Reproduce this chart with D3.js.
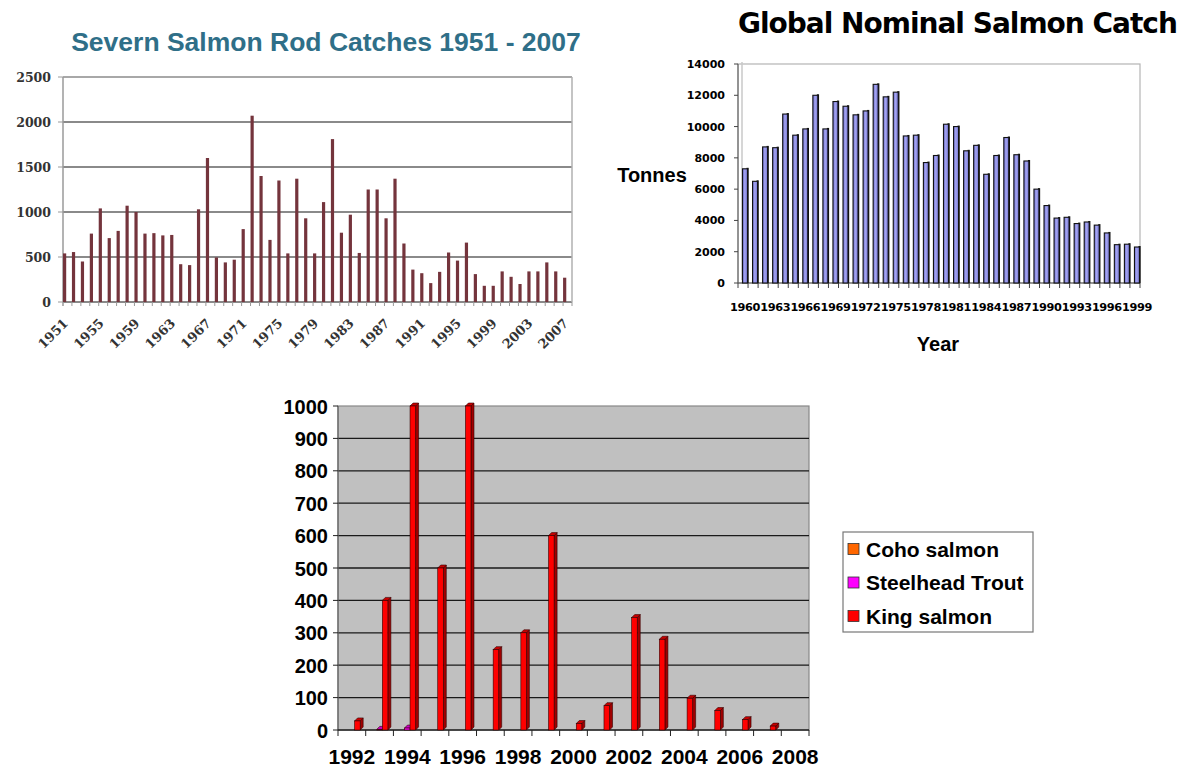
<!DOCTYPE html>
<html><head><meta charset="utf-8">
<script src="https://cdn.jsdelivr.net/npm/d3@7/dist/d3.min.js"></script>
<style>body{margin:0;background:#fff}svg{display:block}</style>
</head><body>
<svg id="c" width="1190" height="768"></svg>
<script>
// ---------- DATA ----------
const severnYears = d3.range(1951, 2008);
const severnCatch = [540,555,450,760,1040,710,790,1070,1000,760,
  765,740,745,420,410,1030,1600,495,440,470,
  810,2070,1400,690,1350,540,1370,930,540,1110,
  1810,770,970,545,1250,1250,930,1370,650,360,
  320,210,335,550,460,660,310,180,180,340,
  280,200,340,340,440,340,270];
const severnTickYears = [1951,1955,1959,1963,1967,1971,1975,1979,1983,1987,1991,1995,1999,2003,2007];
const severnYTicks = [0,500,1000,1500,2000,2500];

const globalYears = d3.range(1960, 2000);
const globalCatch = [7300,6500,8700,8650,10800,9450,9850,12000,9850,11600,
  11300,10750,11000,12700,11900,12200,9400,9450,7700,8150,
  10150,10000,8450,8800,6950,8150,9300,8200,7800,6000,
  4950,4150,4200,3800,3900,3700,3200,2450,2480,2300];
const globalTickYears = [1960,1963,1966,1969,1972,1975,1978,1981,1984,1987,1990,1993,1996,1999];
const globalYTicks = [0,2000,4000,6000,8000,10000,12000,14000];

const alaskaYears = d3.range(1992, 2009);
const cohoSalmon =     [0,0,0,0,0,0,0,0,0,0,0,0,0,0,0,0,0];
const steelheadTrout = [0,2,6,0,0,0,0,0,0,0,0,0,0,0,0,0,0];
const kingSalmon =     [28,400,1000,500,1000,248,300,600,20,75,347,280,98,60,32,12,0];
const alaskaSeries = ["Coho salmon","Steelhead Trout","King salmon"];
const alaskaColors = ["#ff6600","#ff00ff","#ff0000"];
const alaskaTickYears = [1992,1994,1996,1998,2000,2002,2004,2006,2008];
const alaskaYTicks = [0,100,200,300,400,500,600,700,800,900,1000];

const svg = d3.select("#c");
svg.append("rect").attr("width",1190).attr("height",768).attr("fill","#fff");

// ---------- CHART 1: Severn ----------
(function(){
  const L=63, R=572, T=77, B=302;
  const x = d3.scaleBand().domain(severnYears).range([L,R]);
  const y = d3.scaleLinear().domain([0,2500]).range([B,T]);
  const g = svg.append("g");
  g.append("text").attr("x",326).attr("y",51).attr("text-anchor","middle")
    .attr("font-family","Liberation Sans, Arial, sans-serif").attr("font-weight","bold")
    .attr("font-size",26.5).attr("fill","#2f6f88").text("Severn Salmon Rod Catches 1951 - 2007");
  g.selectAll("line.grid").data(severnYTicks).join("line")
    .attr("x1",L).attr("x2",R).attr("y1",d=>y(d)).attr("y2",d=>y(d))
    .attr("stroke",d=>d===2500?"#a8a8a8":"#8a8a8a").attr("stroke-width",2);
  g.append("line").attr("x1",L).attr("x2",L).attr("y1",T).attr("y2",B+4).attr("stroke","#9a9a9a").attr("stroke-width",1.5);
  g.append("line").attr("x1",R).attr("x2",R).attr("y1",T).attr("y2",B).attr("stroke","#b0b0b0").attr("stroke-width",1.5);
  g.selectAll("line.yt").data(severnYTicks).join("line")
    .attr("x1",L-5).attr("x2",L).attr("y1",d=>y(d)).attr("y2",d=>y(d)).attr("stroke","#999");
  g.selectAll("line.xt").data(severnYears).join("line")
    .attr("x1",d=>x(d)+x.bandwidth()).attr("x2",d=>x(d)+x.bandwidth()).attr("y1",B).attr("y2",B+4).attr("stroke","#999");
  g.selectAll("text.yl").data(severnYTicks).join("text")
    .attr("x",51).attr("y",d=>y(d)+4.5).attr("text-anchor","end")
    .attr("font-family","DejaVu Serif, serif").attr("font-weight","bold").attr("font-size",12.5)
    .attr("fill","#333").text(d=>d);
  g.selectAll("rect.bar").data(severnCatch).join("rect")
    .attr("x",(d,i)=>x(severnYears[i])).attr("width",3.2)
    .attr("y",d=>y(d)).attr("height",d=>B-y(d)).attr("fill","#74343c");
  g.selectAll("text.xl").data(severnTickYears).join("text")
    .attr("transform",d=>`translate(${x(d)+6},${B+22}) rotate(-45)`)
    .attr("text-anchor","end")
    .attr("font-family","DejaVu Serif, serif").attr("font-weight","bold").attr("font-size",13)
    .attr("fill","#333").text(d=>d);
})();

// ---------- CHART 2: Global ----------
(function(){
  const L=738, R=1140, T=64, B=283;
  const x = d3.scaleBand().domain(globalYears).range([L,R]);
  const y = d3.scaleLinear().domain([0,14000]).range([B,T]);
  const g = svg.append("g");
  const defs = svg.append("defs");
  const gr = defs.append("linearGradient").attr("id","gbar").attr("x1","0").attr("x2","1").attr("y1","0").attr("y2","0");
  gr.append("stop").attr("offset","0").attr("stop-color","#6a6ac4");
  gr.append("stop").attr("offset","0.45").attr("stop-color","#a4a4f2");
  gr.append("stop").attr("offset","1").attr("stop-color","#7474cc");
  g.append("text").attr("x",738).attr("y",33)
    .attr("font-family","DejaVu Sans, sans-serif").attr("font-weight","bold")
    .attr("font-size",28).attr("letter-spacing",-1).attr("fill","#000").text("Global Nominal Salmon Catch");
  g.append("rect").attr("x",L).attr("y",T).attr("width",R-L).attr("height",B-T)
    .attr("fill","none").attr("stroke","#b4b4b4").attr("stroke-width",1.2);
  g.append("line").attr("x1",L+4).attr("x2",L+4).attr("y1",T-2).attr("y2",B-3).attr("stroke","#c8c8c8").attr("stroke-width",1.5);
  g.append("line").attr("x1",L).attr("x2",L).attr("y1",T).attr("y2",B).attr("stroke","#555").attr("stroke-width",1);
  g.append("line").attr("x1",L).attr("x2",R).attr("y1",B).attr("y2",B).attr("stroke","#555").attr("stroke-width",1.2);
  g.selectAll("line.yt").data(globalYTicks).join("line")
    .attr("x1",L-4).attr("x2",L).attr("y1",d=>y(d)).attr("y2",d=>y(d)).attr("stroke","#444");
  g.selectAll("line.xt").data(globalYears).join("line")
    .attr("x1",d=>x(d)+x.bandwidth()).attr("x2",d=>x(d)+x.bandwidth()).attr("y1",B).attr("y2",B+5).attr("stroke","#444");
  g.append("line").attr("x1",L).attr("x2",L).attr("y1",B).attr("y2",B+5).attr("stroke","#444");
  g.selectAll("text.yl").data(globalYTicks).join("text")
    .attr("x",725).attr("y",d=>y(d)+4).attr("text-anchor","end")
    .attr("font-family","DejaVu Sans, sans-serif").attr("font-weight","bold").attr("font-size",11)
    .attr("fill","#000").text(d=>d);
  const bars = g.selectAll("g.bar").data(globalCatch).join("g");
  bars.append("rect").attr("x",(d,i)=>x(globalYears[i])+8.5).attr("width",2.2)
    .attr("y",d=>y(d)-1).attr("height",d=>B-y(d)+1).attr("fill","#111");
  bars.append("rect").attr("x",(d,i)=>x(globalYears[i])+4.5).attr("width",5)
    .attr("y",d=>y(d)).attr("height",d=>B-y(d)).attr("fill","url(#gbar)")
    .attr("stroke","#111").attr("stroke-width",1.1);
  g.selectAll("text.xl").data(globalTickYears).join("text")
    .attr("x",d=>x(d)+x.bandwidth()/2+2).attr("y",311).attr("text-anchor","middle")
    .attr("font-family","DejaVu Sans, sans-serif").attr("font-weight","bold").attr("font-size",11.3)
    .attr("letter-spacing",-0.4).attr("fill","#000").text(d=>d);
  g.append("text").attr("x",652).attr("y",182).attr("text-anchor","middle")
    .attr("font-family","Liberation Sans, Arial, sans-serif").attr("font-weight","bold").attr("font-size",20)
    .attr("fill","#000").text("Tonnes");
  g.append("text").attr("x",938).attr("y",351).attr("text-anchor","middle")
    .attr("font-family","Liberation Sans, Arial, sans-serif").attr("font-weight","bold").attr("font-size",20)
    .attr("fill","#000").text("Year");
})();

// ---------- CHART 3: King / Coho / Steelhead ----------
(function(){
  const L=338, R=809, T=406, B=730;
  const x = d3.scaleBand().domain(alaskaYears).range([L,R]);
  const y = d3.scaleLinear().domain([0,1000]).range([B,T]);
  const bw = x.bandwidth();
  const xs = d3.scaleBand().domain(alaskaSeries).range([bw*0.2, bw*0.8]);
  const g = svg.append("g");
  g.append("rect").attr("x",L).attr("y",T).attr("width",R-L).attr("height",B-T)
    .attr("fill","#c0c0c0").attr("stroke","#888").attr("stroke-width",1.2);
  g.selectAll("line.grid").data(alaskaYTicks.filter(d=>d>0&&d<1000)).join("line")
    .attr("x1",L).attr("x2",R).attr("y1",d=>y(d)).attr("y2",d=>y(d))
    .attr("stroke","#1a1a1a").attr("stroke-width",1.3);
  g.append("line").attr("x1",L).attr("x2",L).attr("y1",T).attr("y2",B).attr("stroke","#666").attr("stroke-width",1.2);
  g.append("line").attr("x1",L).attr("x2",R).attr("y1",B).attr("y2",B).attr("stroke","#222").attr("stroke-width",1.3);
  g.selectAll("line.yt").data(alaskaYTicks).join("line")
    .attr("x1",L-5).attr("x2",L).attr("y1",d=>y(d)).attr("y2",d=>y(d)).attr("stroke","#222");
  g.selectAll("line.xt").data(alaskaYears).join("line")
    .attr("x1",d=>x(d)+bw).attr("x2",d=>x(d)+bw).attr("y1",B).attr("y2",B+6).attr("stroke","#222");
  g.append("line").attr("x1",L).attr("x2",L).attr("y1",B).attr("y2",B+6).attr("stroke","#222");
  g.selectAll("text.yl").data(alaskaYTicks).join("text")
    .attr("x",328).attr("y",d=>y(d)+7.5).attr("text-anchor","end")
    .attr("font-family","Liberation Sans, Arial, sans-serif").attr("font-weight","bold").attr("font-size",20)
    .attr("fill","#000").text(d=>d);
  g.selectAll("text.xl").data(alaskaTickYears).join("text")
    .attr("x",d=>x(d)+bw/2).attr("y",764).attr("text-anchor","middle")
    .attr("font-family","Liberation Sans, Arial, sans-serif").attr("font-weight","bold").attr("font-size",21)
    .attr("fill","#000").text(d=>d);
  const seriesData = [cohoSalmon, steelheadTrout, kingSalmon];
  const dx=3, dy=3;
  const side = {"#ff6600":"#a84400","#ff00ff":"#a000a0","#ff0000":"#a00000"};
  const topc = {"#ff6600":"#d05000","#ff00ff":"#c800c8","#ff0000":"#c80000"};
  seriesData.forEach((vals,si)=>{
    const col = alaskaColors[si];
    const w = xs.bandwidth();
    const data = vals.map((v,i)=>({v, yr:alaskaYears[i]})).filter(d=>d.v>0);
    const gg = g.append("g");
    gg.selectAll("path.side").data(data).join("path")
      .attr("d",d=>{const x0=x(d.yr)+xs(alaskaSeries[si])+w, y0=y(d.v);
        return `M${x0},${y0}L${x0+dx},${y0-dy}L${x0+dx},${B-dy}L${x0},${B}Z`;})
      .attr("fill",side[col]).attr("stroke","#300").attr("stroke-width",0.6);
    gg.selectAll("path.top").data(data).join("path")
      .attr("d",d=>{const x0=x(d.yr)+xs(alaskaSeries[si]), y0=y(d.v);
        return `M${x0},${y0}L${x0+dx},${y0-dy}L${x0+w+dx},${y0-dy}L${x0+w},${y0}Z`;})
      .attr("fill",topc[col]).attr("stroke","#300").attr("stroke-width",0.6);
    gg.selectAll("rect").data(data).join("rect")
      .attr("x",d=>x(d.yr)+xs(alaskaSeries[si])).attr("width",w)
      .attr("y",d=>y(d.v)).attr("height",d=>B-y(d.v))
      .attr("fill",col).attr("stroke","#300").attr("stroke-width",0.6);
  });
  // legend
  const lg = svg.append("g");
  lg.append("rect").attr("x",843).attr("y",532).attr("width",190).attr("height",100)
    .attr("fill","#fff").attr("stroke","#777").attr("stroke-width",1.2);
  alaskaSeries.forEach((s,i)=>{
    const cy = 549 + i*33.5;
    lg.append("rect").attr("x",848).attr("y",cy-5.5).attr("width",11).attr("height",11)
      .attr("fill",alaskaColors[i]).attr("stroke","#333").attr("stroke-width",0.8);
    lg.append("text").attr("x",866).attr("y",cy+7.5)
      .attr("font-family","Liberation Sans, Arial, sans-serif").attr("font-weight","bold").attr("font-size",21)
      .attr("fill","#000").text(s);
  });
})();
</script>
</body></html>
